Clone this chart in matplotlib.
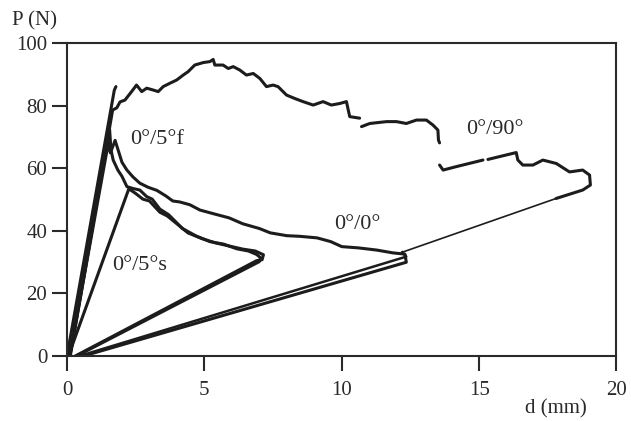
import numpy as np
import matplotlib
matplotlib.use("Agg")
from matplotlib import pyplot as plt

plt.rcParams["font.family"] = ["Liberation Serif", "DejaVu Serif"]

INK = "#1c1c1c"
nan = np.nan

# 0°/90° : loading, plateau, unloading (thick, thin, thick again)
d_90_load = [0.0, 1.72, 1.78]
p_90_load = [0.0, 85.0, 86.2]
d_90 = [0.12, 1.66, 1.81, 1.93, 2.11, 2.35, 2.53, 2.72, 2.90, 3.14, 3.32, 3.50,
        3.75, 3.99, 4.23, 4.41, 4.65, 4.96, 5.20, 5.32, 5.38, 5.68, 5.87, 6.05, 6.29,
        6.53, 6.78, 7.02, 7.26, 7.50, 7.68, 7.99, 8.29, 8.59, 8.96, 9.32, 9.62, 9.93,
        10.17, 10.29, 10.65, nan, 10.72, 11.02, 11.63, 11.99, 12.35, 12.72, 13.08,
        13.32, 13.50, 13.52, 13.56, nan, 13.56, 13.69, 14.17, 15.14, nan, 15.32, 16.35,
        16.41, 16.59, 16.96, 17.32, 17.81, 18.29, 18.77, 19.02, 19.05, 18.77, 17.80]
p_90 = [0.0, 78.7, 79.4, 81.3, 81.9, 84.6, 86.7, 84.6, 85.7, 85.1, 84.6, 86.2,
        87.3, 88.3, 89.9, 91.0, 93.1, 93.9, 94.2, 94.9, 93.1, 93.1, 92.0, 92.6, 91.5,
        89.9, 90.4, 88.8, 86.2, 86.7, 86.2, 83.5, 82.4, 81.4, 80.3, 81.4, 80.3, 80.8,
        81.4, 76.6, 76.1, nan, 73.4, 74.4, 75.0, 75.0, 74.4, 75.5, 75.5,
        73.9, 72.3, 69.1, 68.2, nan, 61.1, 59.5, 60.6, 62.7, nan, 62.9, 65.1,
        62.7, 61.1, 61.1, 62.7, 61.6, 58.9, 59.5, 57.9, 54.7, 53.1, 50.4]
d_90_thin = [17.80, 12.20]
p_90_thin = [50.4, 33.2]
d_90_back = [12.20, 12.35, 0.45]
p_90_back = [33.2, 31.8, 0.0]

# 0°/0°
d_00 = [0.10, 1.50, 1.58, 1.75, 2.00, 2.18, 2.40, 2.65, 2.95, 3.27, 3.60, 3.85, 4.10,
        4.47, 4.84, 5.30, 5.90, 6.40, 7.00, 7.40, 8.00, 8.47, 9.10, 9.60, 10.00, 10.60,
        11.27, 11.86, 12.30, 12.35, 0.60]
p_00 = [0.0, 68.0, 65.0, 69.0, 62.0, 59.5, 57.3, 55.3, 54.0, 53.0, 51.2, 49.6, 49.3,
        48.4, 46.7, 45.6, 44.2, 42.3, 40.8, 39.4, 38.5, 38.3, 37.8, 36.6, 35.0, 34.6,
        33.9, 33.0, 32.6, 30.0, 0.0]

# 0°/5°f
d_5f = [0.10, 1.55, 1.60, 1.68, 1.85, 2.00, 2.18, 2.40, 2.65, 2.90, 3.10, 3.38, 3.70,
        4.20, 4.70, 5.20, 5.70, 6.18, 6.60, 6.90, 7.05, 7.00, 0.35]
p_5f = [0.0, 72.5, 66.0, 62.7, 59.5, 57.5, 54.2, 53.6, 53.1, 51.0, 50.2, 47.0, 45.2,
        40.8, 38.4, 36.6, 35.8, 34.3, 33.6, 32.5, 31.4, 30.2, 0.0]

# 0°/5°s
d_5s = [0.05, 2.25, 2.50, 2.76, 3.00, 3.38, 3.65, 4.00, 4.40, 4.90, 5.40, 5.90,
        6.40, 6.85, 7.15, 7.10, 6.90, 0.30]
p_5s = [0.0, 53.5, 52.0, 50.2, 49.6, 46.0, 44.8, 42.3, 39.4, 37.6, 36.2, 35.2,
        34.2, 33.6, 32.4, 30.8, 30.5, 0.0]

x_ticks = [0, 5, 10, 15, 20]
y_ticks = [0, 20, 40, 60, 80, 100]

labels = ["0°/90°", "0°/0°", "0°/5°f", "0°/5°s"]
label_d = [15.56, 10.55, 3.27, 2.65]
label_p = [72.6, 42.2, 69.4, 28.8]

fig = plt.figure(figsize=(6.31, 4.21), dpi=100)
ax = fig.add_axes([0.1062, 0.1544, 0.8708, 0.7423])

lw = 2.2
ax.plot(d_90_load, p_90_load, color=INK, lw=lw, solid_capstyle="round")
ax.plot(d_90, p_90, color=INK, lw=lw, solid_capstyle="round", solid_joinstyle="round")
ax.plot(d_90_thin, p_90_thin, color=INK, lw=1.2)
ax.plot(d_90_back, p_90_back, color=INK, lw=1.8)
ax.plot(d_00, p_00, color=INK, lw=lw, solid_joinstyle="round")
ax.plot(d_5f, p_5f, color=INK, lw=lw, solid_joinstyle="round")
ax.plot(d_5s, p_5s, color=INK, lw=lw, solid_joinstyle="round")

for t, x, y in zip(labels, label_d, label_p):
    ax.text(x, y, t, fontsize=16, color="#2a2a2a", ha="center", va="center")

ax.set_xlim(0, 20)
ax.set_ylim(0, 100)
ax.set_xticks(x_ticks)
ax.set_yticks(y_ticks)
ax.tick_params(direction="out", length=10.8, width=1.5, labelsize=15,
               colors="#2a2a2a", top=False, right=False)
ax.tick_params(axis="x", pad=7.5)
ax.tick_params(axis="y", pad=3.5)
for s in ax.spines.values():
    s.set_linewidth(1.5)
    s.set_color("#2a2a2a")

fig.text(0.054, 0.950, "P (N)", fontsize=15, color="#2a2a2a", ha="center", va="center")
fig.text(0.881, 0.0285, "d (mm)", fontsize=15, color="#2a2a2a", ha="center", va="center")

fig.savefig("out.png", dpi=100)
